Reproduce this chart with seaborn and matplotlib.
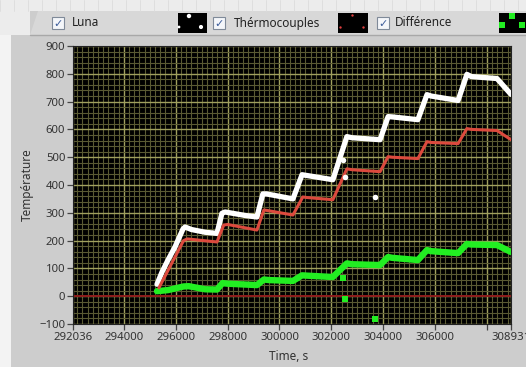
import matplotlib
matplotlib.use("Agg")
import matplotlib.pyplot as plt
import matplotlib.patches as mpatches
from matplotlib.ticker import MultipleLocator
import pandas as pd
import seaborn as sns

# Luna (fibre) readings
luna_t = [295276, 295470, 295700, 295970, 296280, 296360, 296600, 297130, 297590,
          297780, 297900, 298700, 299130, 299360, 299500, 300520, 300870, 301000,
          302060, 302600, 302800, 303880, 304190, 304350, 305340, 305690, 305850,
          306890, 307230, 307400, 308390, 308931]
luna_v = [43, 87, 130, 177, 242, 249, 240, 230, 226,
          298, 303, 290, 285, 368, 368, 350, 437, 435,
          419, 574, 570, 563, 646, 645, 635, 725, 720,
          704, 798, 790, 783, 726]

# thermocouple readings
tc_t = [295350, 296300, 296450, 297590, 297850, 298000, 299130, 299400, 299550,
        300520, 300900, 301050, 302060, 302600, 302800, 303880, 304190, 304350,
        305340, 305690, 305850, 306890, 307230, 307400, 308390, 308931]
tc_v = [30, 200, 206, 195, 256, 258, 238, 310, 308,
        292, 357, 355, 347, 458, 455, 448, 502, 500,
        495, 556, 553, 549, 603, 600, 596, 563]

# difference
diff_t = [295276, 295700, 296300, 296500, 297130, 297590, 297800, 298000, 299130,
          299400, 299600, 300520, 300870, 301050, 302060, 302600, 302800, 303880,
          304190, 304350, 305340, 305690, 305850, 306890, 307230, 307400, 308390,
          308931]
diff_v = [18, 22, 35, 36, 25, 24, 47, 45, 40,
          60, 58, 55, 75, 74, 69, 118, 115, 112,
          141, 138, 130, 166, 162, 155, 188, 186, 184,
          159]

# stray points
luna_out_t = [302450, 302527, 303684]
luna_out_v = [490, 430, 357]
diff_out_t = [302450, 302527, 303684]
diff_out_v = [65, -11, -83]

xticks = [292036, 294000, 296000, 298000, 300000, 302000, 304000, 306000, 308000, 308931]
xlabels = ["292036", "294000", "296000", "298000", "300000", "302000", "304000", "306000", "", "308931"]
yticks = list(range(-100, 901, 100))

sns.set_style("dark")
plt.rcParams["font.family"] = ["Noto Sans", "DejaVu Sans"]

W, H = 526, 367
fig = plt.figure(figsize=(W / 100, H / 100), dpi=100)
fig.patch.set_facecolor("#cdcdcd")

# pixel overlay for the LabVIEW frame and legend
bg = fig.add_axes([0, 0, 1, 1])
bg.set_xlim(0, W)
bg.set_ylim(H, 0)
bg.axis("off")
bg.add_patch(mpatches.Rectangle((0, 0), W, 11, color="#ececec", lw=0))
for gx in range(0, W, 14):
    bg.plot([gx, gx], [0, 11], color="#dcdcdc", lw=0.6)
bg.add_patch(mpatches.Polygon([(30, 35), (38, 11), (W, 11), (W, 35)],
                              closed=True, color="#d8d8d8", lw=0))
bg.plot([30, W], [35, 35], color="#a8a8a8", lw=1)
bg.add_patch(mpatches.Rectangle((0, 11), 30, 24, color="#ececec", lw=0))
bg.add_patch(mpatches.Rectangle((0, 35), 11, H - 35, color="#f3f3f3", lw=0))

def checkbox(x, label, tx):
    bg.add_patch(mpatches.Rectangle((x, 17), 12, 12, facecolor="#f4f6fa",
                                    edgecolor="#7f8a99", lw=0.8))
    bg.text(x + 6, 23.5, "\u2713", color="#3d5d9a", fontsize=8, ha="center",
            va="center", family=["DejaVu Sans"], fontweight="bold")
    bg.text(tx, 23, label, color="#222222", fontsize=8.5, va="center")

checkbox(52, "Luna", 72)
checkbox(213, "Thérmocouples", 234)
checkbox(377, "Différence", 395)

bg.add_patch(mpatches.Rectangle((178, 13), 29, 20, color="black", lw=0))
bg.scatter([189, 179, 201], [16, 27, 27], s=[10, 4, 9], c="white", lw=0)
bg.add_patch(mpatches.Rectangle((338, 13), 30, 20, color="black", lw=0))
bg.scatter([352, 340, 363], [15, 27, 27], s=3, c="#e04040", lw=0)
bg.add_patch(mpatches.Rectangle((499, 13), 27, 20, color="black", lw=0))
bg.scatter([512, 502, 522], [16, 25, 25], s=14, c="#22ee22", marker="s", lw=0)

# main chart
ax = fig.add_axes([73 / W, 1 - 324 / H, 438 / W, 278 / H])
ax.set_zorder(2)
ax.set_facecolor("black")

luna = pd.DataFrame({"t": luna_t, "v": luna_v})
tc = pd.DataFrame({"t": tc_t, "v": tc_v})
diff = pd.DataFrame({"t": diff_t, "v": diff_v})

ax.axhline(0, color="#8e1c1c", lw=1.4, zorder=2)
sns.lineplot(data=diff, x="t", y="v", sort=False, color="#22ee22", lw=4.6, ax=ax, zorder=3)
sns.lineplot(data=luna, x="t", y="v", sort=False, color="white", lw=3.8, ax=ax, zorder=4)
sns.lineplot(data=tc, x="t", y="v", sort=False, color="#dc4a3e", lw=2.2, ax=ax, zorder=5)
sns.scatterplot(x=luna_out_t, y=luna_out_v, color="white", s=16, lw=0, ax=ax, zorder=6)
sns.scatterplot(x=diff_out_t, y=diff_out_v, color="#22ee22", marker="s", s=18, lw=0, ax=ax, zorder=6)

ax.set_xlim(292036, 308931)
ax.set_ylim(-100, 900)
ax.set_xticks(xticks)
ax.set_xticklabels(xlabels)
ax.set_yticks(yticks)
ax.xaxis.set_minor_locator(MultipleLocator(200))
ax.yaxis.set_minor_locator(MultipleLocator(20))
ax.grid(True, which="minor", color="#5a5a33", lw=0.8)
ax.grid(True, which="major", color="#a0a05e", lw=1.0)
ax.set_axisbelow(True)

ax.tick_params(which="major", direction="out", length=4, width=0.9, color="#444444",
               labelsize=8.2, labelcolor="#333333", pad=1.5, bottom=True, left=True)
ax.tick_params(which="minor", length=0)
for s in ax.spines.values():
    s.set_color("#222222")
    s.set_linewidth(0.8)

ax.set_xlabel("Time, s", fontsize=8.5, color="#333333")
ax.set_ylabel("Température", fontsize=8.5, color="#333333")
ax.xaxis.set_label_coords(0.493, -0.095)
ax.yaxis.set_label_coords(-0.089, 0.5)

fig.savefig("out.png", dpi=100, facecolor=fig.get_facecolor())
